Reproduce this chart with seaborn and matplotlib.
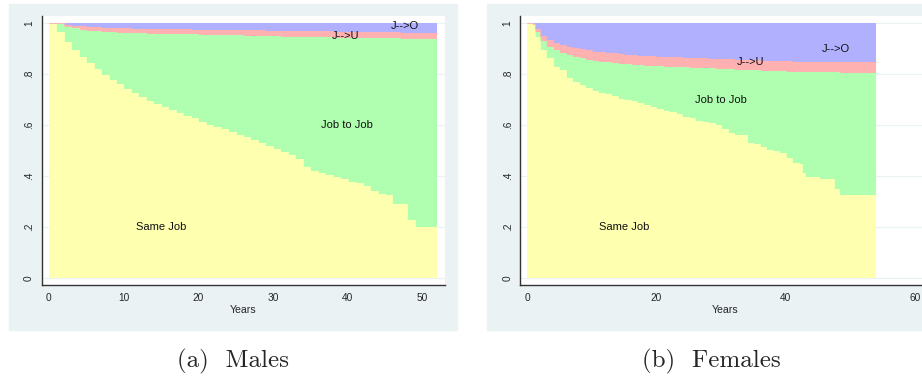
import numpy as np
import pandas as pd
import matplotlib

matplotlib.use("Agg")
import matplotlib.pyplot as plt
from matplotlib.patches import Rectangle
import seaborn as sns

# ---- data: cumulative exits from first job by destination ----
# males: step start times (years) and values after each step
male_t = list(range(0, 52))
male_end = 52
male_same = [1.0, 0.966, 0.926, 0.894, 0.866, 0.842, 0.819, 0.796, 0.777, 0.759,
             0.740, 0.725, 0.709, 0.696, 0.683, 0.670, 0.659, 0.646, 0.637, 0.627,
             0.614, 0.602, 0.594, 0.584, 0.573, 0.563, 0.552, 0.542, 0.531, 0.518,
             0.508, 0.496, 0.483, 0.466, 0.437, 0.422, 0.414, 0.405, 0.398, 0.388,
             0.379, 0.372, 0.362, 0.343, 0.330, 0.326, 0.291, 0.291, 0.228, 0.200,
             0.200, 0.200]
male_ju = [0.000, 0.000, 0.007, 0.010, 0.012, 0.013, 0.015, 0.016, 0.017, 0.018,
           0.018, 0.019, 0.019, 0.019, 0.019, 0.019, 0.019, 0.019, 0.019, 0.019,
           0.020, 0.020, 0.020, 0.021, 0.021, 0.021, 0.021, 0.022, 0.022, 0.022,
           0.023, 0.023, 0.023, 0.023, 0.023, 0.024, 0.024, 0.024, 0.024, 0.024,
           0.024, 0.024, 0.024, 0.024, 0.024, 0.024, 0.024, 0.024, 0.024, 0.024,
           0.024, 0.024]
male_jo = [0.000, 0.001, 0.008, 0.011, 0.014, 0.017, 0.018, 0.019, 0.020, 0.021,
           0.021, 0.022, 0.022, 0.023, 0.023, 0.024, 0.024, 0.025, 0.025, 0.026,
           0.026, 0.027, 0.027, 0.027, 0.028, 0.028, 0.029, 0.029, 0.029, 0.030,
           0.030, 0.031, 0.031, 0.031, 0.032, 0.032, 0.033, 0.033, 0.034, 0.034,
           0.035, 0.035, 0.035, 0.036, 0.036, 0.037, 0.037, 0.038, 0.038, 0.039,
           0.039, 0.039]

# females
fem_t = [0, 1, 1.2] + list(range(2, 43)) + [42.5, 43, 45.2, 47.5, 48.2]
fem_end = 54
fem_same = [1.0, 0.995, 0.946, 0.894, 0.862, 0.829, 0.816, 0.783, 0.770, 0.756,
            0.744, 0.734, 0.725, 0.721, 0.714, 0.704, 0.698, 0.693, 0.685, 0.678,
            0.670, 0.662, 0.657, 0.651, 0.644, 0.633, 0.627, 0.617, 0.612, 0.607,
            0.602, 0.584, 0.570, 0.561, 0.560, 0.531, 0.525, 0.516, 0.504, 0.499,
            0.490, 0.470, 0.453, 0.448, 0.411, 0.396, 0.389, 0.350, 0.326]
fem_ju = [0.000, 0.001, 0.014, 0.020, 0.026, 0.029, 0.030, 0.032, 0.034, 0.036,
          0.037, 0.038, 0.038, 0.038, 0.038, 0.038, 0.038, 0.038, 0.038, 0.038,
          0.038, 0.038, 0.038, 0.038, 0.038, 0.038, 0.038, 0.038, 0.038, 0.038,
          0.038, 0.039, 0.039, 0.039, 0.039, 0.039, 0.039, 0.039, 0.039, 0.039,
          0.039, 0.040, 0.040, 0.040, 0.040, 0.040, 0.040, 0.040, 0.040]
fem_jo = [0.000, 0.003, 0.023, 0.050, 0.067, 0.077, 0.086, 0.093, 0.099, 0.103,
          0.108, 0.112, 0.115, 0.117, 0.119, 0.121, 0.124, 0.126, 0.128, 0.129,
          0.131, 0.132, 0.133, 0.134, 0.135, 0.136, 0.137, 0.138, 0.139, 0.140,
          0.141, 0.142, 0.143, 0.144, 0.145, 0.146, 0.147, 0.148, 0.149, 0.150,
          0.150, 0.151, 0.152, 0.152, 0.153, 0.153, 0.154, 0.154, 0.155]

ytick_vals = [0, 0.2, 0.4, 0.6, 0.8, 1]
ytick_labels = ["0", ".2", ".4", ".6", ".8", "1"]

BG = "#EAF2F3"
COLORS = {"same": "#FFFFB0", "jj": "#B0FFB0", "ju": "#FFB0B0", "jo": "#B0B0FF"}
SANS = ["Liberation Sans", "DejaVu Sans"]


def build_frame(t, end, same, ju, jo):
    t = np.append(np.array(t, dtype=float), end)
    same = np.append(same, same[-1])
    ju = np.append(ju, ju[-1])
    jo = np.append(jo, jo[-1])
    df = pd.DataFrame({"Years": t, "same": same})
    df["jj_top"] = 1 - ju - jo
    df["ju_top"] = 1 - jo
    df["jo_top"] = 1.0
    return df


def draw_panel(ax, df, xlim, xticks, labels):
    ax.set_facecolor("white")
    for y in ytick_vals:
        ax.axhline(y, color=BG, lw=0.9, zorder=0)
    x = df["Years"]
    ax.fill_between(x, 0, df["same"], step="post", color=COLORS["same"], lw=0, zorder=2)
    ax.fill_between(x, df["same"], df["jj_top"], step="post", color=COLORS["jj"], lw=0, zorder=2)
    ax.fill_between(x, df["jj_top"], df["ju_top"], step="post", color=COLORS["ju"], lw=0, zorder=2)
    ax.fill_between(x, df["ju_top"], df["jo_top"], step="post", color=COLORS["jo"], lw=0, zorder=2)
    # boundaries of the stacked areas
    for col, c in [("same", COLORS["same"]), ("jj_top", COLORS["jj"]), ("ju_top", COLORS["ju"])]:
        sns.lineplot(data=df, x="Years", y=col, ax=ax, color=c, lw=0.6,
                     drawstyle="steps-post", zorder=3)
    ax.set_xlim(*xlim)
    ax.set_ylim(-0.026, 1.027)
    ax.set_xticks(xticks)
    ax.set_xticklabels([str(v) for v in xticks], fontsize=7.3, family=SANS)
    ax.set_yticks(ytick_vals)
    ax.set_yticklabels(ytick_labels, fontsize=7.3, family=SANS, rotation=90, va="center")
    ax.set_xlabel("Years", fontsize=7.6, family=SANS, labelpad=2)
    ax.set_ylabel("")
    ax.tick_params(axis="both", direction="out", length=3.5, width=0.8,
                   color="#222222", pad=2)
    for s in ["top", "right"]:
        ax.spines[s].set_visible(False)
    for s in ["left", "bottom"]:
        ax.spines[s].set_color("#333333")
        ax.spines[s].set_linewidth(1.0)
        ax.spines[s].set_zorder(5)
    for txt, xx, yy in labels:
        ax.text(xx, yy, txt, ha="center", va="center", fontsize=8,
                family=SANS, color="#111111", zorder=6)


sns.set_theme(style="white")
plt.rcParams["font.family"] = SANS

W, H = 922, 378
fig = plt.figure(figsize=(W / 100, H / 100), dpi=100)
fig.patch.set_facecolor("white")

# panel backgrounds (pixel boxes converted to figure coords)
for x0, x1 in [(9, 457), (487, 940)]:
    fig.patches.append(Rectangle((x0 / W, 1 - 330 / H), (x1 - x0) / W, (330 - 4) / H,
                                 transform=fig.transFigure, color=BG, zorder=-5))

bottom = 1 - 285 / H
height = (285 - 16) / H
ax1 = fig.add_axes([41.7 / W, bottom, (445 - 41.7) / W, height], zorder=2)
ax2 = fig.add_axes([520.3 / W, bottom, (930 - 520.3) / W, height], zorder=2)

males = build_frame(male_t, male_end, male_same, male_ju, male_jo)
females = build_frame(fem_t, fem_end, fem_same, fem_ju, fem_jo)

draw_panel(ax1, males, (-0.94, 53.03), [0, 10, 20, 30, 40, 50],
           [("J-->O", 47.7, 0.988), ("J-->U", 39.7, 0.950),
            ("Job to Job", 39.9, 0.60), ("Same Job", 15.0, 0.20)])
draw_panel(ax2, females, (-1.04, 62.3), [0, 20, 40, 60],
           [("J-->O", 47.8, 0.897), ("J-->U", 34.6, 0.846),
            ("Job to Job", 30.0, 0.698), ("Same Job", 15.05, 0.20)])

fig.text(233 / W, 11 / H, "(a)  Males", ha="center", va="baseline",
         fontsize=18, family="cmr10")
fig.text(711 / W, 11 / H, "(b)  Females", ha="center", va="baseline",
         fontsize=18, family="cmr10")

fig.savefig("out.png", dpi=100)
